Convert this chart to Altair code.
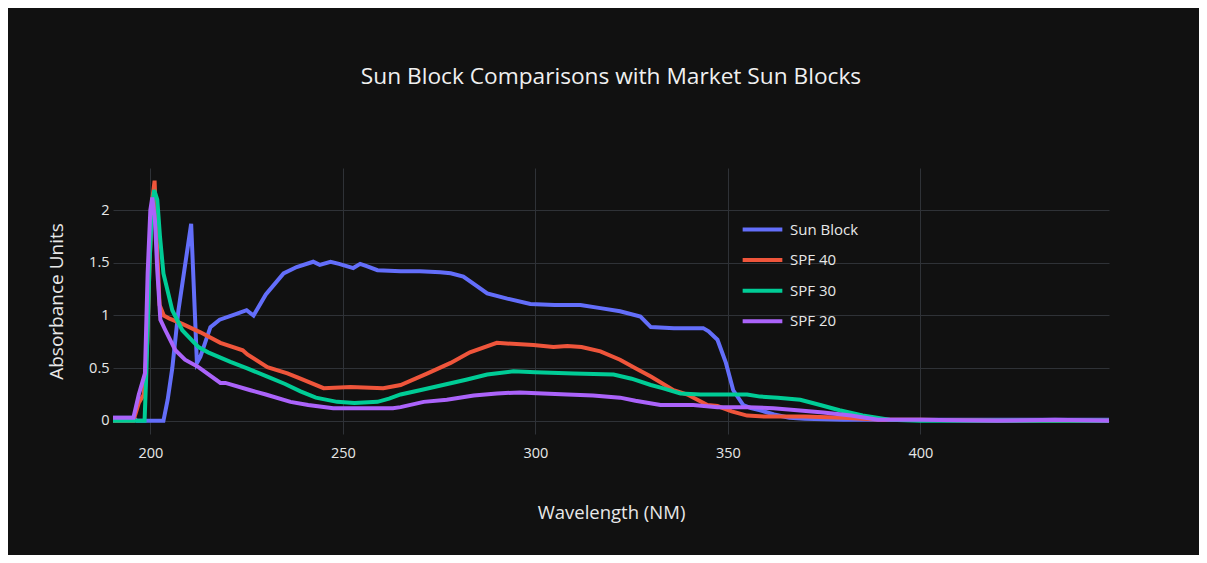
import altair as alt
import pandas as pd

series_names = ["Sun Block", "SPF 40", "SPF 30", "SPF 20"]
series_colors = ["#636efa", "#EF553B", "#00cc96", "#ab63fa"]

sun_block_wl = [190.3, 193, 195.6, 196.5, 203.4, 204.5, 205.7, 207.3, 210.6, 212.1, 213, 215.6, 218,
                222, 225, 226.8, 230, 234.6, 238, 242.3, 244, 246.8, 249, 252.7, 254.5, 256, 259, 265,
                270, 275.3, 278, 281.3, 284, 287.5, 292.7, 298.7, 305, 311.7, 316.9, 322, 327.3, 330,
                336, 343.6, 345, 347.3, 349.5, 351.4, 354, 356, 358.4, 362, 366, 370, 380, 400, 420, 449]
sun_block_abs = [0.03, 0.03, 0.03, 0.0, 0.0, 0.2, 0.5, 1.05, 1.87, 0.55, 0.61, 0.89, 0.96,
                 1.01, 1.05, 1.0, 1.2, 1.40, 1.46, 1.51, 1.48, 1.51, 1.49, 1.45, 1.49, 1.47, 1.43, 1.42,
                 1.42, 1.41, 1.40, 1.37, 1.30, 1.21, 1.16, 1.11, 1.10, 1.10, 1.07, 1.04, 0.99, 0.89,
                 0.88, 0.88, 0.85, 0.77, 0.55, 0.29, 0.15, 0.12, 0.10, 0.06, 0.03, 0.02, 0.01, 0.01, 0.01, 0.01]

spf40_wl = [190.3, 195.6, 197, 198.3, 199.2, 199.8, 200.5, 201.1, 201.8, 202.4, 203.5, 205, 208.3,
            213, 218.2, 224, 225.2, 230.4, 235.6, 239, 245, 252, 260.5, 265, 272, 278, 283, 290,
            299.5, 304.7, 308.3, 312, 316.9, 322, 326, 330, 335.9, 339.5, 344.7, 347.3, 351, 355,
            360, 370, 380, 390, 400, 420, 449]
spf40_abs = [0.0, 0.0, 0.17, 0.25, 0.75, 1.5, 2.1, 2.28, 1.6, 1.1, 1.0, 0.97, 0.92,
             0.84, 0.74, 0.67, 0.63, 0.51, 0.45, 0.40, 0.31, 0.32, 0.31, 0.34, 0.45, 0.55, 0.65, 0.74,
             0.72, 0.70, 0.71, 0.70, 0.66, 0.58, 0.50, 0.42, 0.29, 0.25, 0.15, 0.14, 0.09, 0.05,
             0.04, 0.04, 0.03, 0.01, 0.01, 0.0, 0.0]

spf30_wl = [190.3, 195, 198.5, 199, 199.8, 200.5, 201, 201.8, 202.5, 203.4, 205.7, 208.3, 212.5, 215,
            220.8, 225, 230.4, 235, 239, 243, 248.5, 253, 259, 262, 265, 270, 276, 282, 287.5, 294.3,
            300, 310, 320.3, 325, 330, 333, 337.7, 342.9, 350, 355, 358.4, 363, 368.8, 374, 379,
            385, 392, 400, 420, 449]
spf30_abs = [0.0, 0.0, 0.0, 0.5, 1.5, 2.05, 2.19, 2.1, 1.75, 1.40, 1.05, 0.86, 0.70, 0.65,
             0.56, 0.50, 0.42, 0.35, 0.28, 0.22, 0.18, 0.17, 0.18, 0.21, 0.25, 0.29, 0.34, 0.39, 0.44, 0.47,
             0.46, 0.45, 0.44, 0.40, 0.34, 0.31, 0.26, 0.25, 0.25, 0.25, 0.23, 0.22, 0.20, 0.15, 0.10,
             0.05, 0.01, 0.0, 0.0, 0.0]

spf20_wl = [190.3, 195.6, 197, 198.6, 199.3, 200, 200.5, 201.2, 201.8, 202.6, 203.9, 206.5, 209, 212.5,
            218.2, 219.5, 226, 230, 236.4, 241, 247.5, 255, 263, 265, 271, 277, 284, 290, 296, 302,
            308.3, 315, 322, 326, 332.5, 341, 347.3, 355, 361.8, 368, 374.8, 382, 389, 400, 420, 435, 449]
spf20_abs = [0.03, 0.03, 0.25, 0.45, 1.4, 2.0, 2.12, 1.9, 1.43, 0.96, 0.86, 0.67, 0.58, 0.51,
             0.36, 0.36, 0.29, 0.25, 0.18, 0.15, 0.12, 0.12, 0.12, 0.13, 0.18, 0.20, 0.24, 0.26, 0.27, 0.26,
             0.25, 0.24, 0.22, 0.19, 0.15, 0.15, 0.13, 0.13, 0.12, 0.10, 0.08, 0.05, 0.01, 0.01, 0.0, 0.01, 0.0]

x_ticks = [200, 250, 300, 350, 400]
y_ticks = [0, 0.5, 1, 1.5, 2]

frames = []
for name, wl, ab in [("Sun Block", sun_block_wl, sun_block_abs),
                     ("SPF 40", spf40_wl, spf40_abs),
                     ("SPF 30", spf30_wl, spf30_abs),
                     ("SPF 20", spf20_wl, spf20_abs)]:
    frames.append(pd.DataFrame({"Wavelength": wl, "Absorbance": ab, "Series": name}))
df = pd.concat(frames, ignore_index=True)

FONT = "Open Sans"
GRID = "#2f3237"
TXT = "#e8e8e8"

chart = alt.Chart(df).mark_line(strokeWidth=4, clip=True).encode(
    x=alt.X("Wavelength:Q",
            scale=alt.Scale(domain=[190.3, 449], nice=False, zero=False),
            axis=alt.Axis(title="Wavelength (NM)", values=x_ticks, grid=True, gridColor=GRID,
                          ticks=False, domain=False, labelPadding=12, labelFontSize=14.5,
                          labelColor=TXT, labelFont=FONT, titleFont=FONT, titleFontSize=18.5,
                          titleFontWeight="normal", titleColor=TXT, titlePadding=44,
                          format="d")),
    y=alt.Y("Absorbance:Q",
            scale=alt.Scale(domain=[-0.125, 2.4], nice=False, zero=False),
            axis=alt.Axis(title="Absorbance Units", values=y_ticks, grid=True, gridColor=GRID,
                          ticks=False, domain=False, labelPadding=4, labelFontSize=14.5,
                          labelColor=TXT, labelFont=FONT, titleFont=FONT, titleFontSize=19,
                          titleFontWeight="normal", titleColor=TXT, titlePadding=22,
                          format="~g")),
    color=alt.Color("Series:N",
                    scale=alt.Scale(domain=series_names, range=series_colors),
                    sort=series_names,
                    legend=alt.Legend(title=None, orient="none", legendX=634, legendY=46,
                                      symbolType="M-1.5,0H1.5", symbolSize=700,
                                      symbolStrokeWidth=4, labelOffset=12, rowPadding=6.6,
                                      padding=0, labelFontSize=15, labelFont=FONT,
                                      labelColor=TXT)),
).properties(
    width=996,
    height=266,
    background="#111111",
    padding={"left": 105, "top": 160, "right": 90, "bottom": 121},
    autosize=alt.AutoSizeParams(type="none"),
    title=alt.TitleParams("Sun Block Comparisons with Market Sun Blocks", font=FONT,
                          fontSize=22.7, fontWeight="normal", color="#f0f0f0",
                          anchor="middle", baseline="middle", offset=68),
).configure_view(stroke=None, fill="#111111")

chart.save("out.html", embed_options={"renderer": "svg", "actions": False})
